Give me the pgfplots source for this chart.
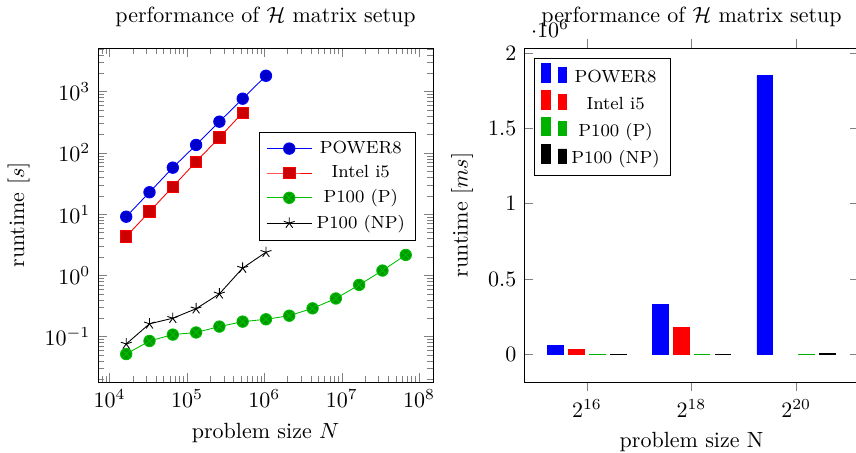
\documentclass[border=0pt]{standalone}
\usepackage{pgfplots}
\pgfplotsset{compat=1.18}
\usetikzlibrary{plotmarks}

\begin{document}
\begin{tikzpicture}
% left: runtime over problem size, log-log
\begin{axis}[
  at={(44.55pt,32.27pt)}, anchor=south west,
  width=152.3pt, height=151.8pt, scale only axis,
  xmode=log, ymode=log,
  xmin=7079, xmax=1.514e8, ymin=0.0182, ymax=5164,
  title={performance of $\mathcal{H}$ matrix setup},
  xlabel={problem size $N$}, ylabel={runtime [$s$]},
  legend cell align=center,
  legend style={at={(0.95,0.75)}, anchor=north east, font=\footnotesize},
  legend image code/.code={%
    \draw[mark repeat=2, mark phase=2, #1] plot coordinates {(0cm,0cm) (0.36cm,0cm) (0.72cm,0cm)};},
]
\addplot[blue, mark=*, mark size=2.6pt, mark options={fill=blue!80!black}] coordinates {
  (16384,9.1) (32768,22.8) (65536,57.5) (131072,135) (262144,324) (524288,769) (1048576,1820)};
\addplot[red, mark=square*, mark size=2.6pt, mark options={fill=red!80!black}] coordinates {
  (16384,4.3) (32768,11) (65536,28) (131072,72) (262144,178) (524288,454)};
\addplot[green!75!black, mark=otimes*, mark size=2.6pt, mark options={fill=green!60!black}] coordinates {
  (16384,0.052) (32768,0.085) (65536,0.108) (131072,0.117) (262144,0.146) (524288,0.176)
  (1048576,0.192) (2097152,0.22) (4194304,0.29) (8388608,0.42) (16777216,0.70)
  (33554432,1.20) (67108864,2.16)};
\addplot[black, mark=star, mark size=2.6pt] coordinates {
  (16384,0.076) (32768,0.162) (65536,0.2) (131072,0.286) (262144,0.50) (524288,1.32) (1048576,2.39)};
\legend{POWER8, Intel i5, P100 (P), P100 (NP)}
\end{axis}

% right: bars in ms
\begin{axis}[
  at={(238.2pt,32.27pt)}, anchor=south west,
  width=152.3pt, height=151.8pt, scale only axis,
  ybar=2.3pt, bar width=7.2pt,
  xmin=14.8, xmax=21.2, ymin=-0.185e6, ymax=2.035e6,
  xtick={16,18,20}, xticklabels={$2^{16}$,$2^{18}$,$2^{20}$},
  xtick align=outside,
  ytick={0,0.5e6,1e6,1.5e6,2e6},
  title={performance of $\mathcal{H}$ matrix setup},
  xlabel={problem size N}, ylabel={runtime [$ms$]},
  legend cell align=center,
  legend style={at={(0.03,0.97)}, anchor=north west, font=\footnotesize},
  legend image code/.code={%
    \draw[#1] (0pt,-2pt) rectangle (4pt,6.5pt) (7.6pt,-2pt) rectangle (11.4pt,4.5pt);},
]
\addplot[fill=blue, draw=blue] coordinates {(16,57000) (18,330000) (20,1850000)};
\addplot[fill=red, draw=red] coordinates {(16,29000) (18,175000)};
\addplot[fill=green!70!black, draw=green!70!black] coordinates {(16,108) (18,146) (20,192)};
\addplot[fill=black, draw=black] coordinates {(16,200) (18,500) (20,2390)};
\legend{POWER8, Intel i5, P100 (P), P100 (NP)}
\end{axis}

\pgfresetboundingbox
\useasboundingbox (0,0) rectangle (389.1pt,205.9pt);
\end{tikzpicture}
\end{document}
